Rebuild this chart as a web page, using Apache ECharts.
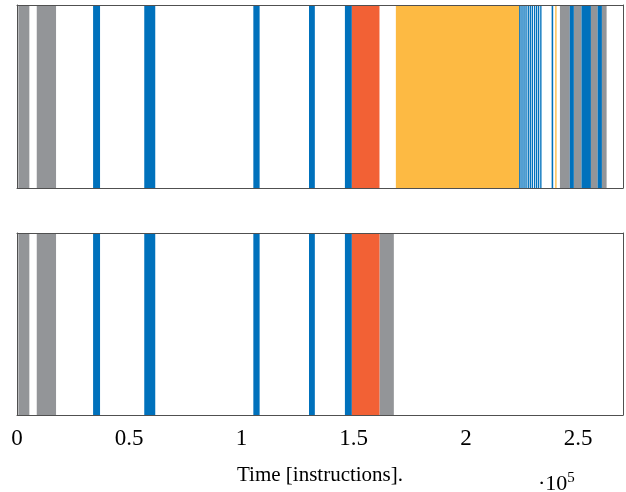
<!DOCTYPE html>
<html>
<head>
<meta charset="utf-8">
<script src="https://cdn.jsdelivr.net/npm/echarts@6/dist/echarts.min.js"></script>
<style>
	html, body { margin: 0; padding: 0; background: #fff; }
	#chart { width: 626px; height: 492px; }
</style>
</head>
<body>
<div id="chart"></div>
<script>
// intervals are [start, end] in instructions
var topBlue = [
	[0, 400], [33900, 37000], [56700, 61600], [105300, 108100], [130100, 132700], [146100, 149200],
	// the dense run after the long yellow phase
	[223700, 224400], [224700, 225300], [225600, 226200], [226500, 227100], [227500, 228100],
	[228400, 229000], [229300, 229900], [230300, 230900], [231200, 231800], [232100, 232700], [233100, 233700],
	[238200, 238900], [246300, 248100], [251500, 255700], [258700, 260600]
]
var topGray = [[600, 5500], [8800, 17400], [241900, 246300], [248100, 251500], [255700, 258700], [260600, 262700]]
var topOrange = [[149200, 161500]]
var topYellow = [[168800, 223700], [239800, 240400]]

var bottomBlue = [[0, 400], [33900, 37000], [56700, 61600], [105300, 108100], [130100, 132700], [146100, 149200]]
var bottomGray = [[600, 5500], [8800, 17400], [161500, 167900]]
var bottomOrange = [[149200, 161500]]

var tickLabels = ['0', '0.5', '1', '1.5', '2', '2.5']

var colors = {
	blue: '#0071bc',
	gray: '#939598',
	orange: '#f26135',
	yellow: '#fdba43'
}

var frameColor = '#505050'
var serif = '"Liberation Serif", "DejaVu Serif", serif'

function renderItem(params, api) {
	var p0 = api.coord([api.value(0), 0])
	var p1 = api.coord([api.value(1), 1])
	return {
		type: 'rect',
		shape: {
			x: p0[0],
			y: p1[1],
			width: Math.max(p1[0] - p0[0], 0.8),
			height: p0[1] - p1[1]
		},
		style: api.style()
	}
}

function band(data, color, idx) {
	return {
		type: 'custom',
		renderItem: renderItem,
		xAxisIndex: idx * 2,
		yAxisIndex: idx * 2,
		itemStyle: { color: color },
		encode: { x: [0, 1] },
		data: data,
		silent: true
	}
}

function xAxes(gridIndex, withLabels) {
	return [
		{
			type: 'value',
			gridIndex: gridIndex,
			min: 0,
			max: 270000,
			interval: 50000,
			position: 'bottom',
			z: 5,
			axisLine: { show: true, onZero: false, lineStyle: { color: frameColor, width: 1 } },
			axisTick: { show: false },
			splitLine: { show: false },
			axisLabel: {
				show: withLabels,
				showMaxLabel: false,
				margin: 12,
				color: '#000',
				fontFamily: serif,
				fontSize: 23,
				formatter: function (v) { return tickLabels[Math.round(v / 50000)] }
			},
			name: withLabels ? 'Time [instructions].' : '',
			nameLocation: 'middle',
			nameGap: 50,
			nameTextStyle: { color: '#000', fontFamily: serif, fontSize: 21 }
		},
		{
			type: 'value',
			gridIndex: gridIndex,
			min: 0,
			max: 270000,
			position: 'top',
			z: 5,
			axisLine: { show: true, onZero: false, lineStyle: { color: frameColor, width: 1 } },
			axisTick: { show: false },
			splitLine: { show: false },
			axisLabel: { show: false }
		}
	]
}

function yAxes(gridIndex) {
	return ['left', 'right'].map(function (pos) {
		return {
			type: 'value',
			gridIndex: gridIndex,
			min: 0,
			max: 1,
			position: pos,
			z: 5,
			axisLine: { show: true, onZero: false, lineStyle: { color: frameColor, width: 1 } },
			axisTick: { show: false },
			splitLine: { show: false },
			axisLabel: { show: false }
		}
	})
}

var chart = echarts.init(document.getElementById('chart'))
chart.setOption({
	animation: false,
	backgroundColor: '#fff',
	grid: [
		{ left: 17, right: 3, top: 5, height: 183 },
		{ left: 17, right: 3, top: 233, height: 182 }
	],
	xAxis: xAxes(0, false).concat(xAxes(1, true)),
	yAxis: yAxes(0).concat(yAxes(1)),
	series: [
		band(topGray, colors.gray, 0),
		band(topBlue, colors.blue, 0),
		band(topOrange, colors.orange, 0),
		band(topYellow, colors.yellow, 0),
		band(bottomGray, colors.gray, 1),
		band(bottomBlue, colors.blue, 1),
		band(bottomOrange, colors.orange, 1)
	],
	graphic: [
		{
			type: 'text',
			left: 538,
			top: 471,
			style: {
				text: '·10{sup|5}',
				fill: '#000',
				font: '22px ' + serif,
				rich: {
					sup: { fontSize: 15, fontFamily: serif, fill: '#000', verticalAlign: 'top', padding: [0, 0, 12, 0] }
				}
			}
		}
	]
})
</script>
</body>
</html>
